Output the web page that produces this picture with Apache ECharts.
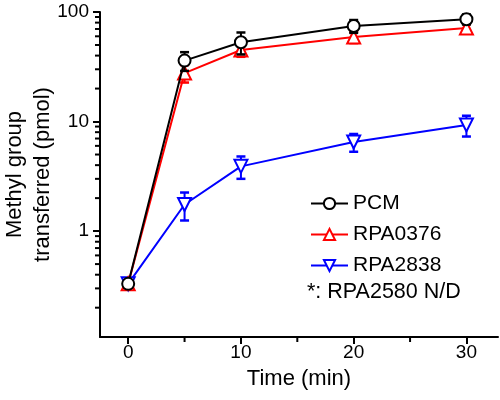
<!DOCTYPE html>
<html><head><meta charset="utf-8">
<script src="https://cdn.jsdelivr.net/npm/echarts@6/dist/echarts.min.js"></script>
<style>html,body{margin:0;padding:0;background:#fff}#c{width:500px;height:400px}</style>
</head><body><div id="c"></div>
<script>
const times = [0, 5, 10, 20, 30];
const pcmMean = [0.33, 36, 53, 74.5, 86];
const pcmErr = [0.02, 7, 12, 10, 9];
const r0376Mean = [0.33, 27.7, 45, 59, 71.5];
const r0376Err = [0.02, 5, 6, 7, 6];
const r2838Mean = [0.33, 1.75, 3.9, 6.5, 9.3];
const r2838Err = [0.02, 0.5, 0.9, 1.2, 2.0];
const seriesNames = ['PCM', 'RPA0376', 'RPA2838'];
const noteText = '*: RPA2580 N/D';
const xTickLabels = [0, 10, 20, 30];
const xMinorTicks = [5, 15, 25];
const yTickLabels = [1, 10, 100];
const yMinorTicks = [0.2, 0.3, 0.4, 0.5, 0.6, 0.7, 0.8, 0.9, 2, 3, 4, 5, 6, 7, 8, 9, 20, 30, 40, 50, 60, 70, 80, 90];
const yMin = 0.108, yMax = 100;
const xMin = -2.5, xMax = 32.8;

const FONT = '"Liberation Sans", Arial, sans-serif';

function pts(mean) { return times.map((t, i) => [t, mean[i]]); }
function errs(mean, err) { return times.map((t, i) => [t, mean[i] - err[i], mean[i] + err[i]]); }

function errRender(color) {
  return function (params, api) {
    const x = api.value(0), lo = api.value(1), hi = api.value(2);
    const pLo = api.coord([x, lo]), pHi = api.coord([x, hi]);
    const w = 4.5;
    return {
      type: 'group', children: [
        { type: 'line', shape: { x1: pLo[0], y1: pLo[1], x2: pHi[0], y2: pHi[1] }, style: { stroke: color, lineWidth: 2 } },
        { type: 'line', shape: { x1: pHi[0] - w, y1: pHi[1], x2: pHi[0] + w, y2: pHi[1] }, style: { stroke: color, lineWidth: 2.5 } },
        { type: 'line', shape: { x1: pLo[0] - w, y1: pLo[1], x2: pLo[0] + w, y2: pLo[1] }, style: { stroke: color, lineWidth: 2.5 } }
      ]
    };
  };
}

function lineSeries(name, mean, color, symbol, rotate, z) {
  return {
    name: name, type: 'line', data: pts(mean), z: z,
    symbol: symbol, symbolSize: symbol === 'circle' ? 12 : 13, symbolRotate: rotate,
    showSymbol: true, showAllSymbol: true,
    lineStyle: { color: color, width: 2 },
    itemStyle: { color: '#fff', borderColor: color, borderWidth: 2 },
    emphasis: { disabled: true }, animation: false
  };
}
function errSeries(mean, err, color, z) {
  return {
    type: 'custom', data: errs(mean, err), z: z,
    encode: { x: 0, y: [1, 2] },
    renderItem: errRender(color), animation: false, silent: true
  };
}
// minor axis ticks, positioned by the axes' own scales
function minorTickSeries(vals, dir) {
  return {
    type: 'custom', z: 6, clip: false, silent: true, animation: false,
    data: vals.map(v => dir === 'y' ? [xMin, v] : [v, yMin]),
    encode: { x: 0, y: 1 },
    renderItem: function (params, api) {
      const p = api.coord([api.value(0), api.value(1)]);
      const len = 5;
      const shape = dir === 'y'
        ? { x1: p[0] - len, y1: p[1], x2: p[0], y2: p[1] }
        : { x1: p[0], y1: p[1], x2: p[0], y2: p[1] + len };
      return { type: 'line', shape: shape, style: { stroke: '#000', lineWidth: 2 } };
    }
  };
}

const chart = echarts.init(document.getElementById('c'), null, { renderer: 'canvas' });
chart.setOption({
  animation: false,
  backgroundColor: '#fff',
  textStyle: { fontFamily: FONT, color: '#000' },
  grid: { left: 100, right: 2, top: 12, bottom: 63, containLabel: false, outerBoundsMode: 'none' },
  xAxis: {
    type: 'value', min: xMin, max: xMax, position: 'bottom',
    axisLine: { onZero: false, lineStyle: { color: '#000', width: 2 } },
    axisTick: { customValues: xTickLabels, length: 7, lineStyle: { color: '#000', width: 2 } },
    axisLabel: { customValues: xTickLabels, fontSize: 19, margin: 6, color: '#000', fontFamily: FONT },
    splitLine: { show: false },
    name: 'Time (min)', nameLocation: 'middle', nameGap: 31, nameMoveOverlap: false,
    nameTextStyle: { fontSize: 22, color: '#000', fontFamily: FONT }
  },
  yAxis: {
    type: 'log', logBase: 10, min: yMin, max: yMax, position: 'left',
    axisLine: { show: true, onZero: false, lineStyle: { color: '#000', width: 2 } },
    axisTick: { show: true, customValues: yTickLabels, length: 7, lineStyle: { color: '#000', width: 2 } },
    axisLabel: { customValues: yTickLabels, fontSize: 19, margin: 11, color: '#000', fontFamily: FONT },
    splitLine: { show: false },
    name: 'Methyl group\ntransferred (pmol)', nameLocation: 'middle', nameGap: 43, nameMoveOverlap: false,
    nameTextStyle: { fontSize: 22, lineHeight: 28, color: '#000', fontFamily: FONT }
  },
  legend: {
    data: seriesNames, orient: 'vertical', left: 305, top: 188,
    itemWidth: 37, itemHeight: 14, itemGap: 10,
    textStyle: { fontSize: 21, lineHeight: 20, color: '#000', fontFamily: FONT },
    selectedMode: false
  },
  graphic: [
    { type: 'text', left: 307, top: 281, style: { text: noteText, fontSize: 21.5, fontFamily: FONT, fill: '#000' } }
  ],
  series: [
    minorTickSeries(yMinorTicks, 'y'),
    minorTickSeries(xMinorTicks, 'x'),
    errSeries(r2838Mean, r2838Err, '#0000ff', 2),
    lineSeries(seriesNames[2], r2838Mean, '#0000ff', 'triangle', 180, 2),
    errSeries(r0376Mean, r0376Err, '#ff0000', 3),
    lineSeries(seriesNames[1], r0376Mean, '#ff0000', 'triangle', 0, 3),
    errSeries(pcmMean, pcmErr, '#000000', 4),
    lineSeries(seriesNames[0], pcmMean, '#000000', 'circle', 0, 4)
  ]
});
</script></body></html>
